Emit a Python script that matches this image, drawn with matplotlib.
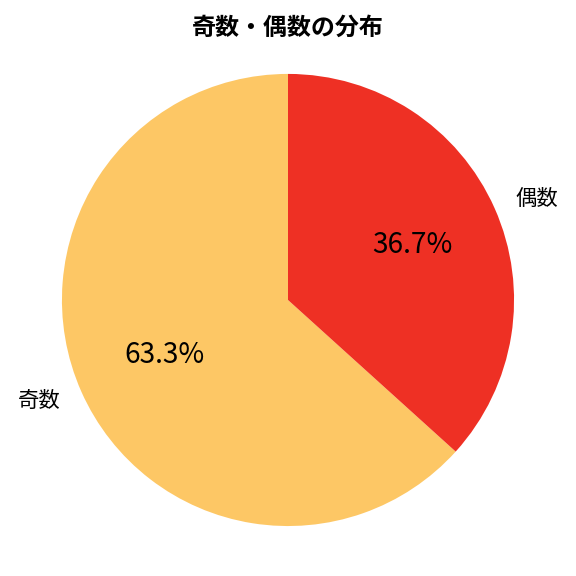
import matplotlib
matplotlib.use("Agg")
import matplotlib.pyplot as plt

plt.rcParams['font.family'] = ['Noto Sans CJK JP', 'DejaVu Sans']

labels = ['奇数', '偶数']
values = [63.3, 36.7]
colors = ['#FDC765', '#EE3024']

fig = plt.figure(figsize=(6, 6), dpi=96)
ax = fig.add_axes([0, 0, 1, 1])
wedges, texts, autotexts = ax.pie(values, labels=labels, colors=colors, startangle=90,
                                  autopct='%1.1f%%', textprops={'fontsize': 16})
for t in autotexts:
    t.set_fontsize(21)
ax.set_aspect('auto')
ax.set_xlim(-1.274, 1.274)
ax.set_ylim(-1.221, 1.327)
fig.text(0.5, 1 - 28 / 576, '奇数・偶数の分布', fontsize=18, fontweight='bold',
         ha='center', va='center')
fig.savefig('out.png')
